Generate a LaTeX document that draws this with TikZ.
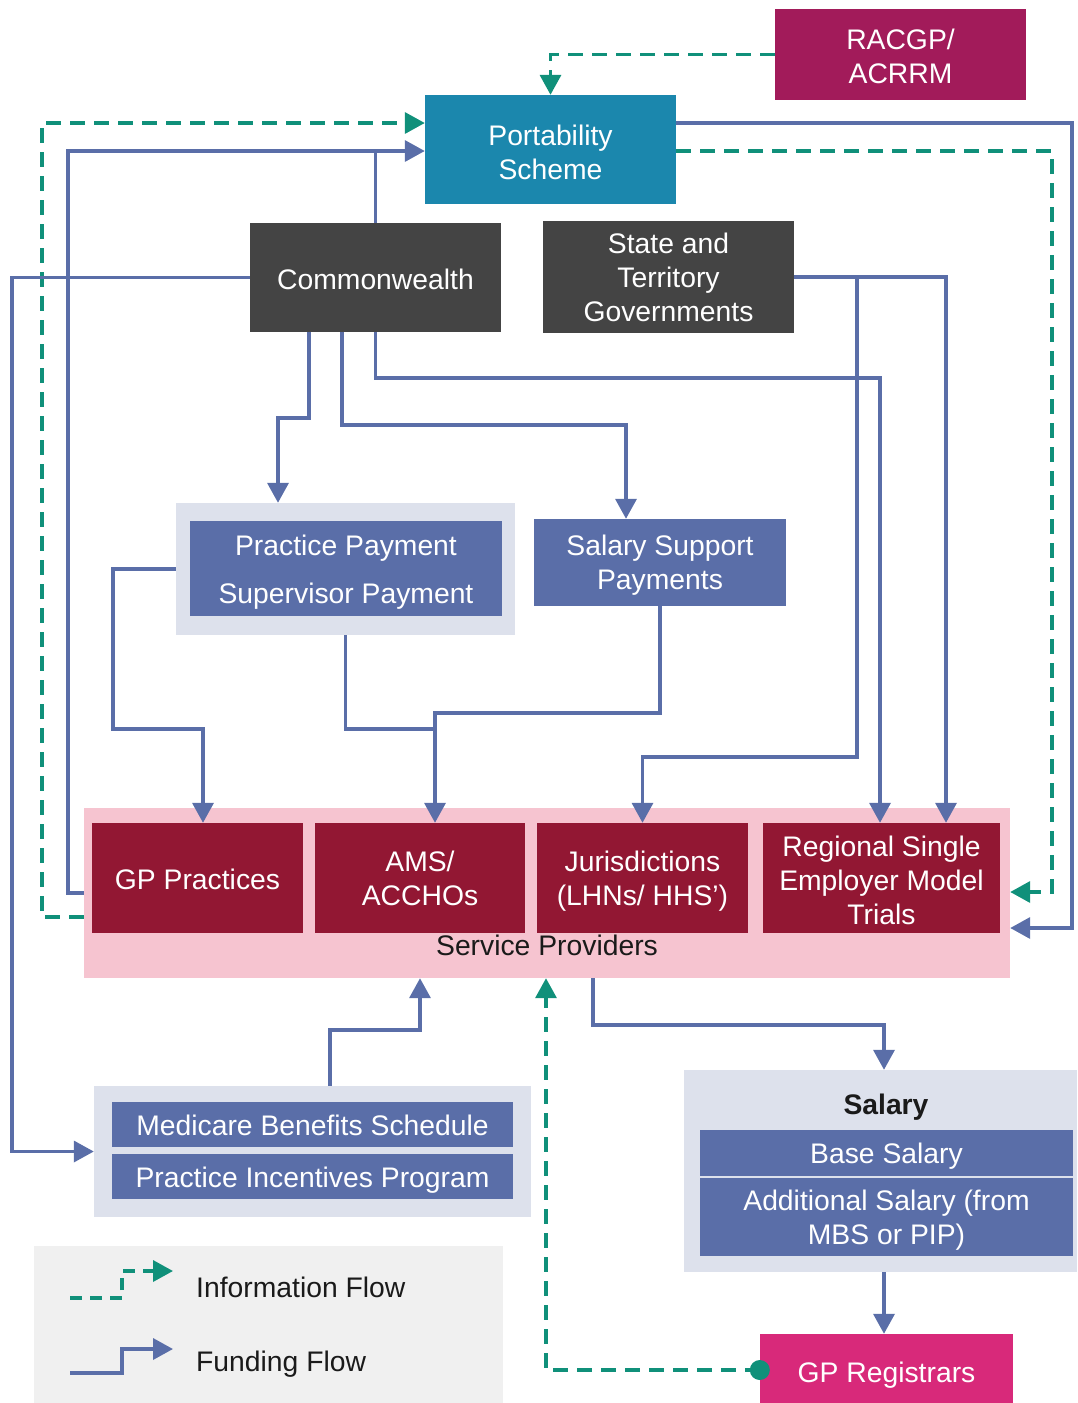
\documentclass[tikz,border=0pt]{standalone}
\usepackage{fontspec}
\setmainfont{Liberation Sans}
\usetikzlibrary{arrows.meta}
\definecolor{portc}{HTML}{1B87AD}
\definecolor{racc}{HTML}{A21B5A}
\definecolor{govc}{HTML}{444444}
\definecolor{bluec}{HTML}{5A6EA8}
\definecolor{grpc}{HTML}{DDE1EC}
\definecolor{pinkc}{HTML}{F6C4D0}
\definecolor{maroonc}{HTML}{921733}
\definecolor{regc}{HTML}{D8297A}
\definecolor{legc}{HTML}{F0F0F0}
\definecolor{infoc}{HTML}{10907A}
\definecolor{textdark}{HTML}{1A1A1A}
\begin{document}
\begin{tikzpicture}[x=1pt,y=-1pt,
  font=\fontsize{28.3pt}{34pt}\selectfont,
  box/.style={inner sep=0pt},
  sz/.style 2 args={minimum width=#1pt, minimum height=#2pt},
  lbl/.style={inner sep=0pt, align=center, text=white},
  txt/.style 2 args={label={[lbl,yshift=-#1pt]center:{#2}}},
  fund/.style={draw=bluec, line width=3.5pt, -{Triangle[length=20pt,width=21pt]}},
  fundline/.style={draw=bluec, line width=3.5pt},
  info/.style={draw=infoc, line width=3.5pt, dash pattern=on 15pt off 9pt, -{Triangle[length=20pt,width=21pt]}},
  lab/.style={inner sep=0pt, text=textdark}]
\useasboundingbox (0,0) rectangle (1077,1403);

% background groups
\node[box, fill=pinkc, sz={926}{170}] (sp) at (547,893) {};
\node[box, fill=grpc, sz={339}{132}] (ppgrp) at (345.5,569) {};
\node[box, fill=grpc, sz={437}{131}] (mgrp) at (312.5,1151.5) {};
\node[box, fill=grpc, sz={393}{202}] (salgrp) at (880.5,1171) {};
\node[box, fill=legc, sz={469}{157}] (legend) at (268.5,1324.5) {};

% boxes
\node[box, fill=racc, sz={251}{91}, txt={2}{RACGP/\\ACRRM}] (racgp) at (900.5,54.5) {};
\node[box, fill=portc, sz={251}{109}, txt={3}{Portability\\Scheme}] (port) at (550.5,149.5) {};
\node[box, fill=govc, sz={251}{109}, txt={2}{Commonwealth}] (cw) at (375.5,277.5) {};
\node[box, fill=govc, sz={251}{112}, txt={0}{State and\\Territory\\Governments}] (st) at (668.5,277) {};
\node[box, fill=bluec, sz={312}{95}, txt={4}{Practice Payment\\[14pt]Supervisor Payment}] (pp) at (346,568.5) {};
\node[box, fill=bluec, sz={252}{87}, txt={3}{Salary Support\\Payments}] (ssp) at (660,562.5) {};
\node[box, fill=maroonc, sz={211}{110}, txt={1}{GP Practices}] (gpp) at (197.5,878) {};
\node[box, fill=maroonc, sz={210}{110}, txt={0}{AMS/\\ACCHOs}] (ams) at (420,878) {};
\node[box, fill=maroonc, sz={211}{110}, txt={3}{Jurisdictions\\(LHNs/ HHS’)}] (jur) at (642.5,878) {};
\node[box, fill=maroonc, sz={237}{110}, txt={2}{Regional Single\\Employer Model\\Trials}] (rse) at (881.5,878) {};
\node[lab] (sptext) at (547,945) {Service Providers};
\node[box, fill=bluec, sz={401}{45}, txt={1}{Medicare Benefits Schedule}] (mbs) at (312.5,1124.5) {};
\node[box, fill=bluec, sz={401}{45}, txt={4}{Practice Incentives Program}] (pip) at (312.5,1176.5) {};
\node[lab, font=\fontsize{28.3pt}{34pt}\selectfont\bfseries] (saltitle) at (886,1107) {Salary};
\node[box, fill=bluec, sz={373}{46}, txt={3}{Base Salary}] (base) at (886.5,1153) {};
\node[box, fill=bluec, sz={373}{78}, txt={3}{Additional Salary (from\\MBS or PIP)}] (addl) at (886.5,1217) {};
\node[box, fill=regc, sz={253}{76}, txt={3}{GP Registrars}] (gpr) at (886.5,1372) {};

% connectors
\draw[info] (racgp.west) -| (port.north);
\draw[fund] (sp.west) -| (68,151) -- (port.west |- 0,151);
\draw[fundline] (cw.north) -- (cw.north |- 0,151);
\draw[info] (sp.west |- 0,917) -| (42,123) -- (port.west |- 0,123);
\draw[fund] (cw.west) -| (12,1151.5) -- (mgrp.west);
\draw[fund] (cw.south -| 309,0) |- (278,418) -- (ppgrp.north -| 278,0);
\draw[fund] (cw.south -| 342,0) |- (626,425) -- (ssp.north -| 626,0);
\draw[fund] (cw.south) |- (880,378) -- (rse.north -| 880,0);
\draw[fund] (st.east) -| (rse.north -| 946,0);
\coordinate (stb) at (857,277);
\draw[fund] (stb) |- (jur.north |- 0,757) -- (jur.north);
\draw[fund] (ppgrp.west) -| (113,729) -| (gpp.north -| 203,0);
\draw[fund] (ppgrp.south) |- (435,729) -- (ams.north -| 435,0);
\draw[fundline] (ssp.south) |- (435,713) -- (435,731);
\draw[fund] (port.east |- 0,123) -| (1072,928) -- (sp.east |- 0,928);
\draw[info] (port.east |- 0,151) -| (1052,892) -- (sp.east |- 0,892);
\draw[fund] (sp.south -| 593,0) |- (884,1025) -- (salgrp.north -| 884,0);
\draw[fund] (mgrp.north -| 330,0) |- (420,1030) -- (sp.south -| 420,0);
\draw[info] (gpr.west |- 0,1370) -| (sp.south -| 546,0);
\fill[infoc] (gpr.west |- 0,1370) circle (10pt);
\draw[fund] (salgrp.south -| 884,0) -- (gpr.north -| 884,0);

% legend
\coordinate (li1) at (70,1298);
\coordinate (li2) at (173,1271);
\coordinate (lf1) at (70,1373);
\coordinate (lf2) at (173,1349);
\draw[info, dash pattern=on 12pt off 8pt] (li1) -| (122,1271) -- (li2);
\draw[fund] (lf1) -| (122,1349) -- (lf2);
\node[lab, anchor=west] (linfo) at (196,1287) {Information Flow};
\node[lab, anchor=west] (lfund) at (196,1364) {Funding Flow};
\end{tikzpicture}
\end{document}
